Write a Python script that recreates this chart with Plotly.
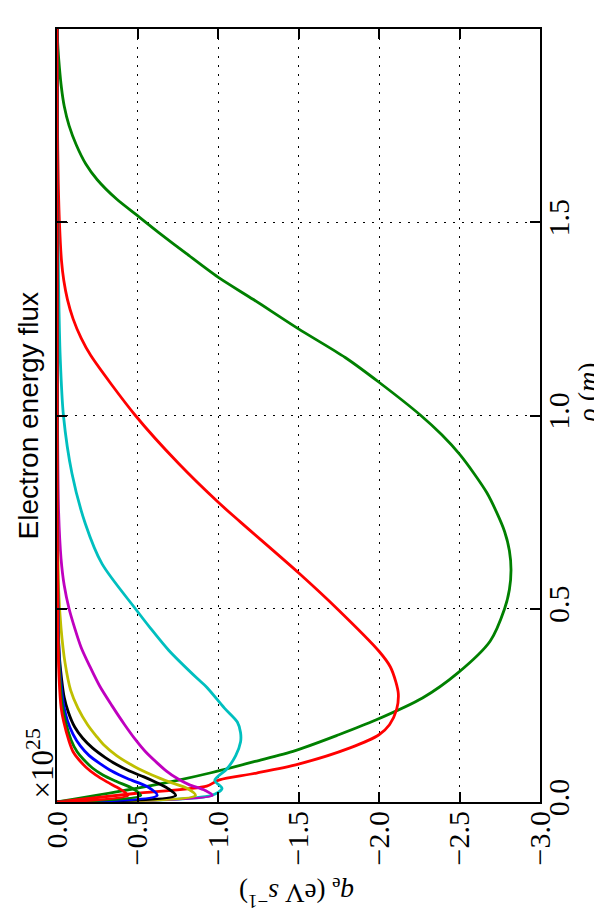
import plotly.graph_objects as go

# ---------------- data (rho in m, q_e in 1e25 eV/s) ----------------
rho_g1 = [0, 0.036, 0.058, 0.075, 0.105, 0.133, 0.174, 0.212, 0.269, 0.334, 0.416, 0.50,
          0.55, 0.60, 0.65, 0.70, 0.75, 0.80, 0.85, 0.90, 0.95, 1.0, 1.086, 1.15, 1.224,
          1.30, 1.358, 1.42, 1.474, 1.517, 1.56, 1.61, 1.65, 1.70, 1.75, 1.80, 1.85, 1.90,
          1.95, 2.0]
q_g1 = [0, -0.50, -0.77, -0.95, -1.23, -1.48, -1.75, -1.98, -2.27, -2.49, -2.69, -2.78,
        -2.81, -2.82, -2.81, -2.78, -2.73, -2.67, -2.59, -2.50, -2.39, -2.26, -2.0, -1.79,
        -1.5, -1.22, -1.0, -0.80, -0.63, -0.5, -0.37, -0.25, -0.18, -0.12, -0.075, -0.045,
        -0.027, -0.015, -0.006, 0.0]

rho_r1 = [0, 0.022, 0.041, 0.054, 0.058, 0.075, 0.098, 0.14, 0.174, 0.20, 0.24, 0.28,
          0.31, 0.35, 0.39, 0.5, 0.593, 0.724, 0.776, 0.875, 1.0, 1.155, 1.20, 1.25, 1.30,
          1.35, 1.40, 1.50, 1.60, 1.75, 2.0]
q_r1 = [0, -0.48, -0.93, -0.99, -1.015, -1.24, -1.50, -1.82, -2.0, -2.065, -2.11, -2.12,
        -2.105, -2.07, -2.0, -1.74, -1.5, -1.14, -1.0, -0.757, -0.487, -0.21, -0.15, -0.10,
        -0.065, -0.042, -0.028, -0.015, -0.008, -0.003, 0]

rho_c = [0, 0.017, 0.035, 0.056, 0.086, 0.12, 0.155, 0.18, 0.207, 0.243, 0.297, 0.32,
         0.392, 0.45, 0.5, 0.616, 0.72, 0.85, 1.0, 1.15, 1.33, 1.6, 2.0]
q_c = [0, -0.96, -1.025, -0.98, -1.056, -1.11, -1.14, -1.14, -1.12, -1.04, -0.93, -0.87,
       -0.695, -0.58, -0.487, -0.28, -0.176, -0.093, -0.04, -0.02, -0.01, -0.003, 0]

rho_m = [0, 0.017, 0.03, 0.045, 0.06, 0.08, 0.10, 0.13, 0.16, 0.20, 0.25, 0.30, 0.35,
         0.40, 0.45, 0.50, 0.56, 0.63, 0.75, 1.0, 2.0]
q_m = [0, -0.965, -0.92, -0.82, -0.75, -0.68, -0.625, -0.55, -0.49, -0.42, -0.34, -0.265,
       -0.205, -0.15, -0.11, -0.075, -0.045, -0.025, -0.01, -0.003, 0]

rho_y = [0, 0.017, 0.035, 0.05, 0.07, 0.092, 0.12, 0.148, 0.17, 0.20, 0.243, 0.289, 0.36,
         0.45, 0.55, 0.8, 2.0]
q_y = [0, -0.86, -0.81, -0.71, -0.59, -0.48, -0.37, -0.29, -0.245, -0.19, -0.13, -0.085,
       -0.05, -0.025, -0.01, -0.003, 0]

rho_k = [0, 0.017, 0.036, 0.05, 0.065, 0.08, 0.097, 0.115, 0.14, 0.165, 0.194, 0.233,
         0.27, 0.32, 0.375, 0.45, 0.8, 2.0]
q_k = [0, -0.737, -0.685, -0.62, -0.54, -0.45, -0.37, -0.30, -0.22, -0.16, -0.11, -0.07,
       -0.045, -0.028, -0.015, -0.007, -0.001, 0]

rho_b = [0, 0.017, 0.04, 0.06, 0.08, 0.10, 0.12, 0.145, 0.175, 0.21, 0.243, 0.32, 0.45,
         0.8, 2.0]
q_b = [0, -0.622, -0.56, -0.44, -0.34, -0.265, -0.20, -0.145, -0.10, -0.065, -0.045,
       -0.022, -0.008, -0.002, 0]

rho_g2 = [0, 0.017, 0.035, 0.053, 0.07, 0.088, 0.11, 0.13, 0.16, 0.209, 0.243, 0.32, 0.45,
          0.8, 2.0]
q_g2 = [0, -0.52, -0.47, -0.37, -0.285, -0.22, -0.165, -0.125, -0.088, -0.052, -0.035,
        -0.018, -0.006, -0.001, 0]

rho_r2 = [0, 0.017, 0.034, 0.052, 0.07, 0.09, 0.11, 0.13, 0.157, 0.209, 0.243, 0.32, 0.45,
          0.8, 2.0]
q_r2 = [0, -0.44, -0.39, -0.31, -0.24, -0.18, -0.135, -0.10, -0.075, -0.041, -0.026,
        -0.013, -0.005, -0.001, 0]

q_ticks = [0, -0.5, -1.0, -1.5, -2.0, -2.5, -3.0]
q_ticklabels = ["0.0", "\u22120.5", "\u22121.0", "\u22121.5", "\u22122.0", "\u22122.5", "\u22123.0"]
rho_ticks = [0, 0.5, 1.0, 1.5, 2.0]
rho_ticklabels = ["0.0", "0.5", "1.0", "1.5", "2.0"]

series = [
    (rho_g1, q_g1, "#008000"),
    (rho_r1, q_r1, "#ff0000"),
    (rho_c, q_c, "#00bfbf"),
    (rho_m, q_m, "#bf00bf"),
    (rho_y, q_y, "#bfbf00"),
    (rho_k, q_k, "#000000"),
    (rho_b, q_b, "#0000ff"),
    (rho_g2, q_g2, "#008000"),
    (rho_r2, q_r2, "#ff0000"),
]

fig = go.Figure()
for r, q, col in series:
    fig.add_trace(go.Scatter(x=q, y=r, mode="lines",
                             line=dict(color=col, width=2.8, shape="spline", smoothing=0.8),
                             showlegend=False, hoverinfo="skip"))

serif = "Liberation Serif"
axis_common = dict(showline=True, linecolor="black", linewidth=2, mirror="ticks",
                   ticks="inside", ticklen=10, tickwidth=1.5, tickcolor="black",
                   showgrid=True, gridcolor="black", gridwidth=1, griddash="2px,7px",
                   zeroline=False, automargin=False,
                   tickfont=dict(family=serif, size=30, color="black"))

fig.update_layout(
    width=602, height=911,
    margin=dict(l=49, r=70, t=21, b=117),
    paper_bgcolor="white", plot_bgcolor="white",
    xaxis=dict(range=[0, -3], tickvals=q_ticks, ticktext=q_ticklabels, tickangle=-90,
               ticklabelstandoff=-5, **axis_common),
    yaxis=dict(range=[0, 2], tickvals=rho_ticks, ticktext=rho_ticklabels, tickangle=-90,
               side="right", ticklabelstandoff=-9, **axis_common),
    annotations=[
        dict(text="Electron energy flux", x=-0.058, y=0.5, xref="paper", yref="paper",
             textangle=-90, showarrow=False, xanchor="center", yanchor="middle",
             font=dict(family="Liberation Sans", size=28, color="black")),
        dict(text="\u00d710<sup>25</sup>", x=-0.035, y=0.05, xref="paper", yref="paper",
             textangle=-90, showarrow=False, xanchor="center", yanchor="middle",
             font=dict(family=serif, size=31, color="black")),
        dict(text="<i>q</i><sub>e</sub> (eV <i>s</i><sup>\u22121</sup>)", x=0.497, y=-0.117,
             xref="paper", yref="paper", textangle=180, showarrow=False,
             xanchor="center", yanchor="middle",
             font=dict(family=serif, size=27, color="black")),
        dict(text="<i>\u03c1</i> (<i>m</i>)", x=1.098, y=0.53, xref="paper", yref="paper",
             textangle=-90, showarrow=False, xanchor="center", yanchor="middle",
             font=dict(family=serif, size=28, color="black")),
    ],
)

fig.write_html("out.html", config={"displayModeBar": False})
